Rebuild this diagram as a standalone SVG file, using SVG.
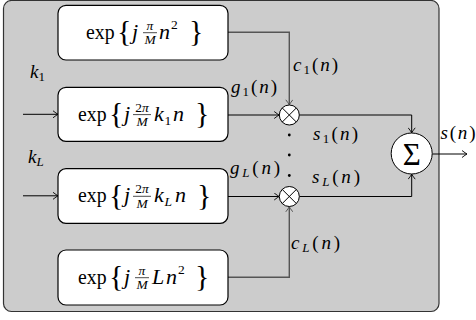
<svg xmlns="http://www.w3.org/2000/svg" width="476" height="320" viewBox="0 0 476 320" font-family="'Liberation Serif', 'DejaVu Serif', serif">
<defs>
<style>
text{font-family:'Liberation Serif','DejaVu Serif','Noto Serif',serif;fill:#000}
.m{font-size:21px}
.v{font-size:22px;font-style:italic}
.i{font-style:italic}
.s{font-size:13.5px}
.br{font-size:30px}
.lb{font-size:19px;font-style:italic}
.sub{font-size:13px}
.box{fill:#fff;stroke:#000;stroke-width:1.2}
.fb{stroke:#000;stroke-width:0.7}
.c{fill:none;stroke:#000;stroke-width:1}
.cg{fill:none;stroke:#555;stroke-width:1.4}
</style>
<marker id="ar" viewBox="-6 -4 7 8" refX="0" refY="0" markerWidth="7" markerHeight="8" markerUnits="userSpaceOnUse" orient="auto"><path d="M-5,-3.5 Q-1.5,-0.8 0,0 Q-1.5,0.8 -5,3.5" fill="none" stroke="#000" stroke-width="0.9"/></marker>
<marker id="arg" viewBox="-6 -4 7 8" refX="0" refY="0" markerWidth="7" markerHeight="8" markerUnits="userSpaceOnUse" orient="auto"><path d="M-5,-3.5 Q-1.5,-0.8 0,0 Q-1.5,0.8 -5,3.5" fill="none" stroke="#555" stroke-width="1"/></marker>
</defs>
<rect id="panel" x="3.5" y="0.5" width="435.5" height="311" rx="8" fill="#ccc" stroke="#333" stroke-width="1.2"/>

<g id="connectors">
<path class="cg" d="M228,32.3 H289.3 V104.8" marker-end="url(#arg)"/>
<path class="cg" d="M228,277.3 H289.3 V206.8" marker-end="url(#arg)"/>
<path class="c" d="M228,115 H279.2" marker-end="url(#ar)"/>
<path class="c" d="M228,196.5 H279.2" marker-end="url(#ar)"/>
<path class="c" d="M299.4,115 H411.7 V132.8" marker-end="url(#ar)"/>
<path class="c" d="M299.4,196.5 H411.7 V174.2" marker-end="url(#ar)"/>
<path class="c" d="M432.2,154 H467" marker-end="url(#ar)"/>
<path class="c" d="M23,114.3 H58" marker-end="url(#ar)"/>
<path class="c" d="M23,195.8 H58" marker-end="url(#ar)"/>
</g>

<g id="box1">
<rect class="box" x="58" y="5.3" width="170" height="54.7" rx="8"/>
<text class="m" x="86" y="38.7" textLength="28.5" lengthAdjust="spacingAndGlyphs">exp</text>
<text class="br" x="117" y="41">{</text>
<text class="v" x="132" y="38.7">j</text>
<text class="s i" x="150" y="29.8" text-anchor="middle">π</text>
<line class="fb" x1="143" y1="32.7" x2="157" y2="32.7"/>
<text class="s i" x="150" y="44.3" text-anchor="middle">M</text>
<text class="v" x="159" y="38.7">n</text>
<text class="s" x="171" y="28.7">2</text>
<text class="br" x="189" y="41">}</text>
</g>

<g id="box2">
<rect class="box" x="58" y="87.3" width="170" height="54" rx="8"/>
<text class="m" x="78" y="120.6" textLength="28.5" lengthAdjust="spacingAndGlyphs">exp</text>
<text class="br" x="109" y="122.9">{</text>
<text class="v" x="124" y="120.6">j</text>
<text class="s" x="142" y="111.7" text-anchor="middle">2<tspan class="i">π</tspan></text>
<line class="fb" x1="133" y1="114.6" x2="151" y2="114.6"/>
<text class="s i" x="142" y="126.2" text-anchor="middle">M</text>
<text class="v" x="154" y="120.6">k</text>
<text class="s" x="164.5" y="124.6">1</text>
<text class="v" x="173" y="120.6">n</text>
<text class="br" x="195" y="122.9">}</text>
</g>

<g id="box3">
<rect class="box" x="58" y="168.7" width="170" height="54.6" rx="8"/>
<text class="m" x="78" y="202.3" textLength="28.5" lengthAdjust="spacingAndGlyphs">exp</text>
<text class="br" x="109" y="204.6">{</text>
<text class="v" x="124" y="202.3">j</text>
<text class="s" x="142" y="193.4" text-anchor="middle">2<tspan class="i">π</tspan></text>
<line class="fb" x1="133" y1="196.3" x2="151" y2="196.3"/>
<text class="s i" x="142" y="207.9" text-anchor="middle">M</text>
<text class="v" x="154" y="202.3">k</text>
<text class="s i" x="164.5" y="206.3">L</text>
<text class="v" x="175" y="202.3">n</text>
<text class="br" x="197" y="204.6">}</text>
</g>

<g id="box4">
<rect class="box" x="58" y="250" width="170" height="55" rx="8"/>
<text class="m" x="78" y="283.7" textLength="28.5" lengthAdjust="spacingAndGlyphs">exp</text>
<text class="br" x="109" y="286">{</text>
<text class="v" x="124" y="283.7">j</text>
<text class="s i" x="142" y="274.8" text-anchor="middle">π</text>
<line class="fb" x1="135" y1="277.7" x2="149" y2="277.7"/>
<text class="s i" x="142" y="289.3" text-anchor="middle">M</text>
<text class="v" x="152" y="283.7">L</text>
<text class="v" x="166" y="283.7">n</text>
<text class="s" x="178" y="273.7">2</text>
<text class="br" x="195" y="286">}</text>
</g>

<g id="mult1">
<circle cx="289.3" cy="115" r="10" fill="#fff" stroke="#000" stroke-width="1"/>
<path d="M282.2,107.9 L296.4,122.1 M296.4,107.9 L282.2,122.1" stroke="#000" stroke-width="1"/>
</g>
<g id="multL">
<circle cx="289.3" cy="196.5" r="10" fill="#fff" stroke="#000" stroke-width="1"/>
<path d="M282.2,189.4 L296.4,203.6 M296.4,189.4 L282.2,203.6" stroke="#000" stroke-width="1"/>
</g>
<g id="sum">
<circle cx="411.7" cy="153.5" r="20.5" fill="#fff" stroke="#000" stroke-width="1"/>
<text x="411.7" y="164.5" font-size="31" text-anchor="middle">Σ</text>
</g>
<g id="dots" fill="#000">
<circle cx="289.3" cy="135" r="1.4"/>
<circle cx="289.3" cy="155" r="1.4"/>
<circle cx="289.3" cy="175.5" r="1.4"/>
</g>

<g id="labels">
<text class="lb" x="30" y="78">k<tspan class="sub" font-style="normal" dy="3">1</tspan></text>
<text class="lb" x="28" y="162.7">k<tspan class="sub" dy="3">L</tspan></text>
<text class="lb" x="231" y="93" textLength="46" lengthAdjust="spacing">g<tspan class="sub" font-style="normal" dy="3">1</tspan><tspan font-style="normal" dy="-3">(</tspan>n<tspan font-style="normal">)</tspan></text>
<text class="lb" x="293" y="71" textLength="45" lengthAdjust="spacing">c<tspan class="sub" font-style="normal" dy="3">1</tspan><tspan font-style="normal" dy="-3">(</tspan>n<tspan font-style="normal">)</tspan></text>
<text class="lb" x="313" y="140" textLength="45" lengthAdjust="spacing">s<tspan class="sub" font-style="normal" dy="3">1</tspan><tspan font-style="normal" dy="-3">(</tspan>n<tspan font-style="normal">)</tspan></text>
<text class="lb" x="230" y="174" textLength="50" lengthAdjust="spacing">g<tspan class="sub" dy="3">L</tspan><tspan font-style="normal" dy="-3">(</tspan>n<tspan font-style="normal">)</tspan></text>
<text class="lb" x="312" y="182.5" textLength="48" lengthAdjust="spacing">s<tspan class="sub" dy="3">L</tspan><tspan font-style="normal" dy="-3">(</tspan>n<tspan font-style="normal">)</tspan></text>
<text class="lb" x="291" y="249" textLength="49" lengthAdjust="spacing">c<tspan class="sub" dy="3">L</tspan><tspan font-style="normal" dy="-3">(</tspan>n<tspan font-style="normal">)</tspan></text>
<text class="lb" x="440.5" y="139" textLength="35" lengthAdjust="spacing">s<tspan font-style="normal">(</tspan>n<tspan font-style="normal">)</tspan></text>
</g>
</svg>
